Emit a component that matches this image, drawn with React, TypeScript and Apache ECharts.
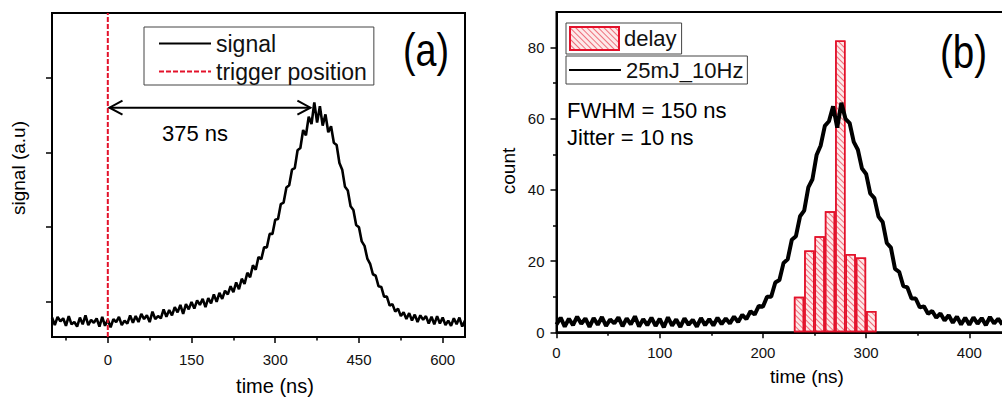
import React, { useEffect, useRef } from "react";
import * as echarts from "echarts";

// ---------- panel (a) data ----------
const signalStart = -100; // ns, first sample
const signalStep = 5; // ns between samples
const signalValues = [
  0.26, 0.16, 0.27, 0.21, 0.25, 0.15, 0.28, 0.17, 0.2, 0.14,
  0.26, 0.17, 0.29, 0.16, 0.23, 0.19, 0.25, 0.14, 0.27, 0.15,
  0.23, 0.13, 0.24, 0.2, 0.27, 0.16, 0.22, 0.18, 0.29, 0.19,
  0.28, 0.2, 0.31, 0.24, 0.29, 0.2, 0.34, 0.24, 0.28, 0.25,
  0.37, 0.27, 0.36, 0.29, 0.4, 0.33, 0.43, 0.31, 0.44, 0.37,
  0.47, 0.38, 0.49, 0.43, 0.51, 0.4, 0.52, 0.45, 0.57, 0.47,
  0.59, 0.51, 0.62, 0.57, 0.68, 0.6, 0.73, 0.64, 0.78, 0.71,
  0.86, 0.8, 0.96, 0.9, 1.07, 1.04, 1.2, 1.2, 1.38, 1.38,
  1.57, 1.58, 1.78, 1.8, 2.0, 2.03, 2.24, 2.26, 2.5, 2.53,
  2.77, 2.7, 2.95, 2.85, 3.14, 2.87, 3.09, 2.83, 2.98, 2.74,
  2.82, 2.6, 2.57, 2.33, 2.24, 2.01, 1.96, 1.75, 1.7, 1.5,
  1.47, 1.28, 1.22, 1.05, 0.98, 0.84, 0.82, 0.68, 0.67, 0.54,
  0.54, 0.42, 0.44, 0.34, 0.38, 0.28, 0.33, 0.24, 0.32, 0.22,
  0.3, 0.2, 0.29, 0.23, 0.28, 0.18, 0.27, 0.17, 0.28, 0.18,
  0.26, 0.16, 0.22, 0.15, 0.25, 0.17, 0.26, 0.14, 0.22,
];
const triggerTime = 0;
const leftXTicks = [0, 150, 300, 450, 600];
const leftXMinorTicks = [-75, 75, 225, 375, 525];
const leftYTicks = [0.47, 1.47, 2.47, 3.47];
const arrowFrom = 3;
const arrowTo = 363;
const arrowLevel = 3.07;
const arrowLabel = "375 ns";

// ---------- panel (b) data ----------
const delayBinCenters = [235, 245, 255, 265, 275, 285, 295, 305];
const delayCounts = [10, 23, 27, 34, 82, 22, 21, 6];
const delayBinWidth = 10;
const pulseStart = 0;
const pulseStep = 4;
const pulseValues = [
  2.2, 4.1, 1.6, 3.8, 2.0, 4.4, 2.4, 3.9, 1.5, 4.0,
  2.1, 4.3, 1.8, 3.6, 2.5, 4.2, 1.7, 3.9, 2.2, 4.5,
  1.6, 3.7, 2.0, 4.1, 1.8, 3.8, 1.4, 4.2, 1.9, 3.6,
  1.5, 3.9, 2.1, 3.5, 1.6, 4.0, 2.0, 3.7, 1.9, 4.1,
  2.3, 3.9, 2.5, 4.4, 2.9, 4.9, 3.7, 5.9, 5.0, 7.4,
  7.2, 10.0, 10.0, 14.0, 14.7, 19.5, 20.5, 26.0, 27.0, 32.6,
  34.2, 40.7, 43.0, 49.8, 52.5, 58.0, 59.3, 63.5, 57.5, 64.5,
  60.0, 58.8, 53.5, 51.3, 46.0, 44.5, 39.0, 37.7, 32.5, 31.0,
  25.1, 23.8, 17.8, 17.0, 13.0, 12.6, 9.5, 9.5, 7.0, 7.3,
  5.2, 6.0, 4.1, 5.3, 3.3, 4.8, 2.7, 4.4, 2.2, 4.1,
  2.1, 4.2, 2.4, 4.0, 2.0, 4.3, 2.5, 3.8, 2.2,
];
const rightXTicks = [0, 100, 200, 300, 400];
const rightXMinorTicks = [50, 150, 250, 350, 450];
const rightYTicks = [0, 20, 40, 60, 80];
const rightYMinorTicks = [10, 30, 50, 70];

// ---------- layout ----------
const FONT = "'Liberation Sans', Arial, sans-serif";
const LG = { left: 52, top: 13, width: 413, height: 324 };
const LX = [-100, 640];
const LY = [0, 4.337];
const RG = { left: 556.5, top: 12, width: 495.4, height: 320.3 };
const RX = [0, 480];
const RY = [0, 90];
const RED = "#e3122b";

export default function App() {
  const ref = useRef<HTMLDivElement>(null);

  useEffect(() => {
    const el = ref.current!;
    const chart = echarts.init(el, null, { renderer: "svg", width: 1002, height: 397 });

    const signalData = signalValues.map((v, i) => [signalStart + i * signalStep, v]);
    const pulseData = pulseValues.map((v, i) => [pulseStart + i * pulseStep, v]);
    const barData = delayBinCenters.map((c, i) => [c, delayCounts[i]]);
    const barPx = (delayBinWidth / (RX[1] - RX[0])) * RG.width;

    const tickLabel = { color: "#111", fontFamily: FONT, fontSize: 15 };
    const axisLine = { show: true, onZero: false, lineStyle: { color: "#000", width: 2 } };
    const tickStyle = { color: "#000", width: 1.5 };
    const hiddenLine = { show: false, onZero: false };

    const minorAxis = (gridIndex: number, min: number, max: number, values: number[], position: string) => ({
      type: "value", gridIndex, min, max, position,
      axisLine: hiddenLine, splitLine: { show: false }, axisLabel: { show: false },
      axisTick: { show: true, customValues: values, length: 3.5, lineStyle: tickStyle },
    });

    const option: any = {
      animation: false,
      backgroundColor: "#fff",
      grid: [
        { ...LG, outerBoundsMode: "none", containLabel: false, show: true, borderColor: "#000", borderWidth: 2, backgroundColor: "transparent" },
        { ...RG, outerBoundsMode: "none", containLabel: false, show: true, borderColor: "#000", borderWidth: 2, backgroundColor: "transparent" },
      ],
      xAxis: [
        {
          type: "value", gridIndex: 0, min: LX[0], max: LX[1],
          axisLine, splitLine: { show: false },
          axisTick: { show: true, customValues: leftXTicks, length: 6, lineStyle: tickStyle },
          axisLabel: { ...tickLabel, customValues: leftXTicks, margin: 15 },
        },
        minorAxis(0, LX[0], LX[1], leftXMinorTicks, "bottom"),
        {
          type: "value", gridIndex: 1, min: RX[0], max: RX[1],
          axisLine, splitLine: { show: false },
          axisTick: { show: true, customValues: rightXTicks, length: 6, lineStyle: tickStyle },
          axisLabel: { ...tickLabel, customValues: rightXTicks, margin: 13 },
        },
        minorAxis(1, RX[0], RX[1], rightXMinorTicks, "bottom"),
      ],
      yAxis: [
        {
          type: "value", gridIndex: 0, min: LY[0], max: LY[1],
          axisLine, splitLine: { show: false }, axisLabel: { show: false },
          axisTick: { show: true, customValues: leftYTicks, length: 6, lineStyle: tickStyle },
        },
        {
          type: "value", gridIndex: 1, min: RY[0], max: RY[1],
          axisLine, splitLine: { show: false },
          axisTick: { show: true, customValues: rightYTicks, length: 6, lineStyle: tickStyle },
          axisLabel: { ...tickLabel, customValues: rightYTicks, margin: 12 },
        },
        minorAxis(1, RY[0], RY[1], rightYMinorTicks, "left"),
      ],
      legend: [
        {
          data: [
            { name: "signal", itemStyle: { opacity: 0 } },
            { name: "trigger position", itemStyle: { opacity: 0 } },
          ],
          orient: "vertical", left: 144, top: 27, itemWidth: 52, itemHeight: 20, itemGap: 5,
          padding: [5, 7, 2, 14], borderColor: "#444", borderWidth: 1, selectedMode: false,
          textStyle: { fontFamily: FONT, fontSize: 23, color: "#111" },
        },
        {
          data: [{ name: "delay", icon: "rect" }],
          left: 566, top: 23, itemWidth: 49, itemHeight: 23, padding: [3, 5, 3, 3],
          borderColor: "#444", borderWidth: 1, selectedMode: false,
          textStyle: { fontFamily: FONT, fontSize: 22, color: "#111" },
        },
        {
          data: [{ name: "25mJ_10Hz", itemStyle: { opacity: 0 } }],
          left: 566, top: 56, itemWidth: 52, itemHeight: 25, padding: [3, 4, 3, 2],
          borderColor: "#444", borderWidth: 1, selectedMode: false,
          textStyle: { fontFamily: FONT, fontSize: 22, color: "#111" },
        },
      ],
      series: [
        {
          name: "trigger position", type: "line", xAxisIndex: 0, yAxisIndex: 0,
          data: [[triggerTime, LY[0]], [triggerTime, LY[1]]],
          symbol: "none", z: 4,
          lineStyle: { color: RED, width: 2, type: [5, 2] },
          itemStyle: { color: RED },
        },
        {
          name: "signal", type: "line", xAxisIndex: 0, yAxisIndex: 0,
          data: signalData, symbol: "none", z: 3,
          lineStyle: { color: "#000", width: 2.6 }, itemStyle: { color: "#000" },
        },
        {
          name: "delay", type: "bar", xAxisIndex: 2, yAxisIndex: 1,
          data: barData, barWidth: barPx, z: 2,
          itemStyle: {
            color: "#fdeaea", borderColor: RED, borderWidth: 1.5,
            decal: {
              symbol: "rect", symbolSize: 1, dashArrayX: [1, 0], dashArrayY: [1, 3],
              rotation: Math.PI / 4, color: "rgba(228,30,50,0.6)",
            },
          },
        },
        {
          name: "25mJ_10Hz", type: "line", xAxisIndex: 2, yAxisIndex: 1,
          data: pulseData, symbol: "none", z: 3,
          lineStyle: { color: "#000", width: 4 }, itemStyle: { color: "#000" },
        },
      ],
    };
    chart.setOption(option);

    const a = chart.convertToPixel({ xAxisIndex: 0, yAxisIndex: 0 }, [arrowFrom, arrowLevel]) as number[];
    const b = chart.convertToPixel({ xAxisIndex: 0, yAxisIndex: 0 }, [arrowTo, arrowLevel]) as number[];
    const head = 13;
    const half = 7;
    const arrowStyle = { stroke: "#000", lineWidth: 2, fill: null };
    const txt = (text: string, x: number, y: number, size: number, extra: any = {}) => ({
      type: "text", x, y, ...extra,
      style: { text, fontFamily: FONT, fontSize: size, fill: "#000", verticalAlign: "middle", align: "left", ...(extra.style || {}) },
    });

    chart.setOption({
      graphic: [
        { type: "line", shape: { x1: a[0], y1: a[1], x2: b[0], y2: b[1] }, style: arrowStyle, z: 10 },
        { type: "polyline", shape: { points: [[a[0] + head, a[1] - half], [a[0], a[1]], [a[0] + head, a[1] + half]] }, style: arrowStyle, z: 10 },
        { type: "polyline", shape: { points: [[b[0] - head, b[1] - half], [b[0], b[1]], [b[0] - head, b[1] + half]] }, style: arrowStyle, z: 10 },
        txt(arrowLabel, 162, 133, 22),
        txt("(a)", 403, 50, 46, { scaleX: 0.82 }),
        txt("(b)", 940, 52, 46, { scaleX: 0.84 }),
        txt("FWHM = 150 ns", 567, 110, 22),
        txt("Jitter = 10 ns", 567, 137, 22),
        txt("signal (a.u)", 18, 168, 19, { rotation: Math.PI / 2, style: { align: "center" } }),
        txt("count", 508, 171, 19, { rotation: Math.PI / 2, style: { align: "center" } }),
        txt("time (ns)", 275, 386, 20, { style: { align: "center" } }),
        txt("time (ns)", 807, 376, 19, { style: { align: "center" } }),
      ],
    });

    return () => chart.dispose();
  }, []);

  return (
    <div
      ref={ref}
      style={{ position: "fixed", left: 0, top: 0, width: 1002, height: 397, background: "#fff", overflow: "hidden" }}
    />
  );
}
